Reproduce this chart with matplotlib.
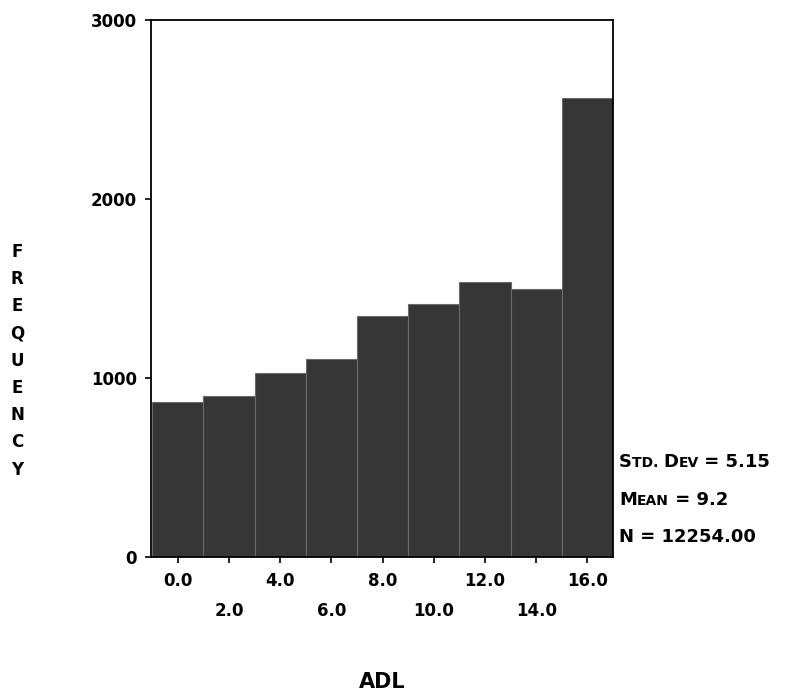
import matplotlib
matplotlib.use("Agg")
import matplotlib.pyplot as plt
import numpy as np

bin_centers = [0, 2, 4, 6, 8, 10, 12, 14, 16]
frequencies = [866, 899, 1028, 1106, 1346, 1413, 1536, 1497, 2564]
xtick_labels = ["0.0", "2.0", "4.0", "6.0", "8.0", "10.0", "12.0", "14.0", "16.0"]
yticks = [0, 1000, 2000, 3000]
stats = [[("S", 13), ("TD. ", 10), ("D", 13), ("EV", 10), (" = 5.15", 13)],
         [("M", 13), ("EAN", 10), (" = 9.2", 13)],
         [("N = 12254.00", 13)]]

plt.rcParams['font.family'] = 'DejaVu Sans'
plt.rcParams['font.weight'] = 'bold'

fig = plt.figure(figsize=(8.02, 6.91), dpi=100)
ax = fig.add_axes([151/802, 1 - 557/691, (613-151)/802, (557-20)/691])

ax.bar(bin_centers, frequencies, width=2, align='center', color='#363636',
       edgecolor='#6a6a6a', linewidth=0.8)
ax.set_xlim(-1.05, 17.0)
ax.set_ylim(0, 3000)
ax.set_yticks(yticks)
ax.set_yticklabels([str(v) for v in yticks], fontsize=12, fontweight='bold')
ax.set_xticks(bin_centers)
ax.set_xticklabels(xtick_labels, fontsize=12, fontweight='bold')
ax.tick_params(axis='both', direction='out', length=4, width=1.2)
for i, t in enumerate(ax.xaxis.get_major_ticks()):
    t.set_pad(7 if i % 2 == 0 else 28.5)
ax.tick_params(axis='y', pad=6)
for s in ax.spines.values():
    s.set_linewidth(1.3)

# stats text with small caps emulation
fig.canvas.draw()
renderer = fig.canvas.get_renderer()
ys = [467, 505, 542]
for parts, ypx in zip(stats, ys):
    xpx = 619
    for txt, sz in parts:
        t = fig.text(xpx/802, 1 - ypx/691, txt, fontsize=sz, fontweight='bold',
                     ha='left', va='baseline')
        bb = t.get_window_extent(renderer=renderer)
        xpx += bb.width

# vertical FREQUENCY
letters = "FREQUENCY"
for i, ch in enumerate(letters):
    fig.text(17/802, 1 - (252 + i*27.2)/691, ch, fontsize=12, fontweight='bold',
             ha='center', va='center')

fig.text(382/802, 1 - 688/691, "ADL", fontsize=15, fontweight='bold',
         ha='center', va='baseline')

fig.savefig("out.png", dpi=100)
